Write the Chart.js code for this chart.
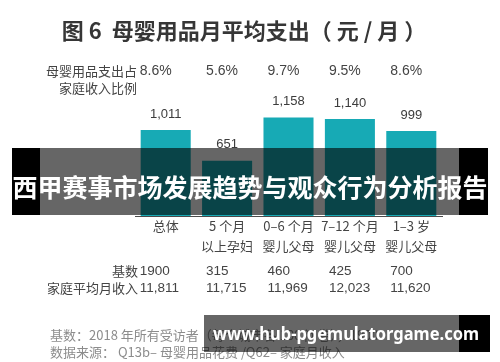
<!DOCTYPE html>
<html>
<head>
<meta charset="utf-8">
<script src="https://cdn.jsdelivr.net/npm/chart.js@4"></script>
<style>
  html, body { margin: 0; padding: 0; background: #fff; }
  #wrap { width: 500px; height: 362px; }
</style>
</head>
<body>
<div id="wrap"><canvas id="spendChart" width="500" height="362"></canvas></div>
<script>
/* ======================================================
   DATA
====================================================== */

const categories = [
  ["总体"],
  ["5 个月", "以上孕妇"],
  ["0–6 个月", "婴儿父母"],
  ["7–12 个月", "婴儿父母"],
  ["1–3 岁", "婴儿父母"]
];
const monthlySpend = [1011, 651, 1158, 1140, 999];
const spendShare = ["8.6%", "5.6%", "9.7%", "9.5%", "8.6%"];
const sampleBase = [1900, 315, 460, 425, 700];
const householdIncome = [11811, 11715, 11969, 12023, 11620];

const titleText = "图 6  母婴用品月平均支出（ 元 / 月 ）";
const footLines = [
  "基数：2018 年所有受访者（每个城市各 100 问卷），1900",
  "数据来源： Q13b– 母婴用品花费 /Q62– 家庭月收入"
];
const bannerText = "西甲赛事市场发展趋势与观众行为分析报告";
const siteText = "www.hub-pgemulatorgame.com";

/* ======================================================
   HELPERS
====================================================== */

const LAT = '"Liberation Sans", Arial, "Noto Sans CJK SC", sans-serif';
const CJK = '"Noto Sans CJK SC", "Liberation Sans", sans-serif';

function fmt(n) {
  return n.toLocaleString("en-US");
}

function colX(x, i) {
  // the side rows start a bit left of each bar centre
  return x.getPixelForValue(i) - (i === 0 ? 26 : 21);
}

/* ======================================================
   PLUGINS
====================================================== */

const barLabels = {
  id: "barLabels",
  afterDatasetsDraw(chart) {
    const ctx = chart.ctx;
    const meta = chart.getDatasetMeta(0);
    ctx.save();
    ctx.font = "13px " + LAT;
    ctx.fillStyle = "#3c3c3c";
    ctx.textAlign = "center";
    ctx.textBaseline = "middle";
    meta.data.forEach((bar, i) => {
      ctx.fillText(fmt(monthlySpend[i]), bar.x, bar.y - 16);
    });
    ctx.restore();
  }
};

const sideText = {
  id: "sideText",
  afterDraw(chart) {
    const ctx = chart.ctx;
    const x = chart.scales.x;
    ctx.save();
    ctx.textBaseline = "middle";

    // title
    ctx.fillStyle = "#363636";
    ctx.font = "bold 22px " + CJK;
    ctx.textAlign = "center";
    ctx.fillText(titleText, 244, 31);

    // share of income row
    ctx.fillStyle = "#444";
    ctx.font = "13px " + CJK;
    ctx.textAlign = "right";
    ctx.fillText("母婴用品支出占", 137, 71);
    ctx.fillText("家庭收入比例", 137, 88);
    ctx.font = "14px " + LAT;
    ctx.textAlign = "left";
    spendShare.forEach((s, i) => ctx.fillText(s, colX(x, i), 71));

    // base + income rows
    ctx.font = "13px " + CJK;
    ctx.textAlign = "right";
    ctx.fillText("基数", 138, 271);
    ctx.fillText("家庭平均月收入", 138, 288);
    ctx.font = "13.5px " + LAT;
    ctx.textAlign = "left";
    sampleBase.forEach((v, i) => ctx.fillText(String(v), colX(x, i), 271));
    householdIncome.forEach((v, i) => ctx.fillText(fmt(v), colX(x, i), 288));

    // footnotes
    ctx.fillStyle = "#8c8c8c";
    ctx.font = "13px " + CJK;
    footLines.forEach((t, i) => ctx.fillText(t, 50, 335 + i * 17));

    // overlay banners
    ctx.fillStyle = "rgba(0,0,0,0.6)";
    ctx.fillRect(40, 148, 419, 67);
    ctx.fillRect(204, 315, 255, 37);
    ctx.fillStyle = "#000";
    ctx.fillRect(12, 148, 28, 67);
    ctx.fillRect(459, 148, 29, 67);
    ctx.fillRect(459, 315, 31, 37);

    ctx.fillStyle = "#fff";
    ctx.font = "bold 25px " + CJK;
    ctx.textAlign = "center";
    ctx.fillText(bannerText, 250, 187);

    // site text squeezed into the banner width
    ctx.font = 'bold 18px "Noto Sans", sans-serif';
    ctx.textAlign = "left";
    const w = ctx.measureText(siteText).width;
    const k = Math.min(1, 266 / w);
    ctx.translate(213, 335);
    ctx.scale(k, 1);
    ctx.fillText(siteText, 0, 0);

    ctx.restore();
  }
};

/* ======================================================
   CHART
====================================================== */

const chart = new Chart(document.getElementById("spendChart"), {
  type: "bar",
  data: {
    labels: categories,
    datasets: [{
      data: monthlySpend,
      backgroundColor: "#17aab5",
      barPercentage: 0.815,
      categoryPercentage: 1
    }]
  },
  options: {
    responsive: false,
    animation: false,
    layout: { padding: { left: 135, right: 58, top: 97, bottom: 0 } },
    plugins: {
      legend: { display: false },
      tooltip: { enabled: false }
    },
    scales: {
      y: { display: false, min: 0, max: 1400 },
      x: {
        afterFit(scale) { scale.height = 146; },
        grid: { display: false, drawTicks: false },
        border: { display: true, color: "#4a4a4a", width: 1 },
        ticks: {
          padding: 0,
          color: "#444",
          maxRotation: 0,
          autoSkip: false,
          font: { family: CJK, size: 13, lineHeight: "20px" }
        }
      }
    }
  },
  plugins: [barLabels, sideText]
});
</script>
</body>
</html>
